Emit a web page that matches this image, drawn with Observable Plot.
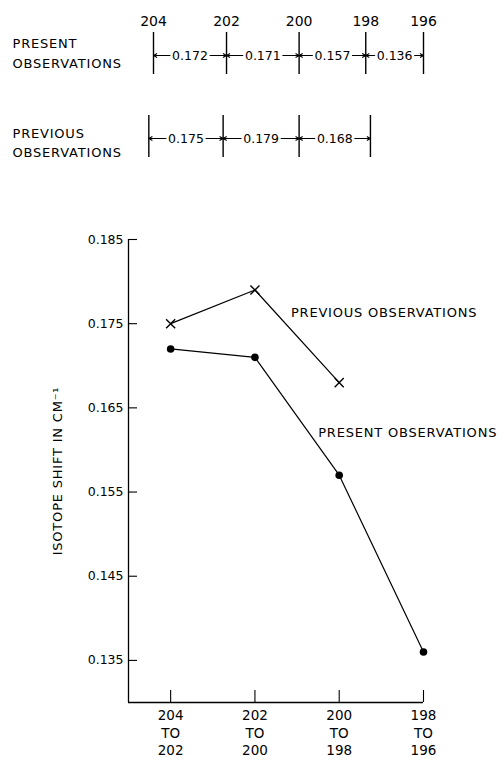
<!DOCTYPE html>
<html>
<head>
<meta charset="utf-8">
<script src="https://cdn.jsdelivr.net/npm/d3@7"></script>
<script src="https://cdn.jsdelivr.net/npm/@observablehq/plot@0.6"></script>
<style>
  html, body { margin: 0; padding: 0; background: #fff; }
  #chart svg { display: block; }
  #chart .wide text, #chart text.wide, #chart g.wide { letter-spacing: 0.8px; }
</style>
</head>
<body>
<div id="chart"></div>
<script>
// ---- Data ----
const masses = [204, 202, 200, 198, 196];
const presentShifts = [0.172, 0.171, 0.157, 0.136];
const previousShifts = [0.175, 0.179, 0.168];
const pairLabels = ["204\nTO\n202", "202\nTO\n200", "200\nTO\n198", "198\nTO\n196"];
const yTicks = [0.135, 0.145, 0.155, 0.165, 0.175, 0.185];
const rowNames = ["present", "previous"];
const rowLabels = ["PRESENT\nOBSERVATIONS", "PREVIOUS\nOBSERVATIONS"];
const seriesLabels = ["PRESENT OBSERVATIONS", "PREVIOUS OBSERVATIONS"];
const yLabel = "ISOTOPE SHIFT IN CM\u207B\u00B9";

const FONT = "DejaVu Sans, sans-serif";

// ---- Top diagram: cumulative shifts ----
function cumulative(shifts) {
  const c = [0];
  shifts.forEach(s => c.push(c[c.length - 1] + s));
  return c;
}
const presCum = cumulative(presentShifts);
const prevCum0 = cumulative(previousShifts);
// align the two ladders at mass 200
const offset = presCum[2] - prevCum0[2];
const prevCum = prevCum0.map(v => v + offset);

const boundaries = [
  ...presCum.map((pos, i) => ({row: "present", mass: masses[i], pos})),
  ...prevCum.map((pos, i) => ({row: "previous", mass: masses[i], pos}))
];
function intervals(row, shifts, cum) {
  return shifts.map((v, i) => ({row, value: v, left: cum[i], right: cum[i + 1], mid: (cum[i] + cum[i + 1]) / 2}));
}
const ints = [...intervals("present", presentShifts, presCum), ...intervals("previous", previousShifts, prevCum)];
const arrowData = ints.flatMap(d => [{row: d.row, from: d.mid, to: d.left}, {row: d.row, from: d.mid, to: d.right}]);

const topPlot = Plot.plot({
  width: 504,
  height: 190,
  margin: 0,
  style: {fontFamily: FONT, fontSize: "12.5px", color: "#000", background: "#fff"},
  x: {domain: [0, presCum[presCum.length - 1]], range: [153, 423], axis: null},
  y: {type: "band", domain: rowNames, range: [32, 157], paddingInner: 0.5, paddingOuter: 0, axis: null},
  marks: [
    Plot.tickX(boundaries, {x: "pos", y: "row", stroke: "#000", strokeWidth: 1.4}),
    Plot.text(boundaries.filter(d => d.row === "present"), {x: "pos", y: "row", text: d => String(d.mass), dy: -32, fontSize: 14}),
    Plot.text(ints, {x: "mid", y: "row", text: d => d3.format(".3f")(d.value), dy: 2, fontSize: 12.5}),
    Plot.arrow(arrowData, {x1: "from", x2: "to", y1: "row", y2: "row", dy: 2, insetStart: 20, headLength: 5, headAngle: 60, stroke: "#000", strokeWidth: 1.1}),
    Plot.text([{row: rowNames[0], label: rowLabels[0]}], {y: "row", text: "label", frameAnchor: "left", dx: 12, textAnchor: "start", lineHeight: 1.55, dy: -2, fontSize: 13, className: "wide"}),
    Plot.text([{row: rowNames[1], label: rowLabels[1]}], {y: "row", text: "label", frameAnchor: "left", dx: 12, textAnchor: "start", lineHeight: 1.5, dy: 5, fontSize: 13, className: "wide"})
  ]
});

// ---- Main chart ----
const present = presentShifts.map((v, i) => ({i, v}));
const previous = previousShifts.map((v, i) => ({i, v}));

const mainPlot = Plot.plot({
  width: 504,
  height: 567,
  marginLeft: 128,
  marginRight: 81,
  marginTop: 49,
  marginBottom: 55,
  style: {fontFamily: FONT, fontSize: "12.5px", color: "#000", background: "#fff"},
  x: {domain: [-0.5, 3], axis: null, label: null},
  y: {domain: [0.13, 0.185], axis: null, label: null},
  marks: [
    Plot.ruleX([-0.5], {stroke: "#000", strokeWidth: 1.3}),
    Plot.ruleY([0.13], {stroke: "#000", strokeWidth: 1.3}),
    Plot.axisY({ticks: yTicks, tickSize: -9, text: null, label: null, stroke: "#000", strokeWidth: 1.1}),
    Plot.axisY({ticks: yTicks, tickSize: 0, tickPadding: 5, label: null, tickFormat: d3.format(".3f"), fontSize: 12.5}),
    Plot.axisX({ticks: [0, 1, 2, 3], tickSize: -12, text: null, label: null, stroke: "#000", strokeWidth: 1.1}),
    Plot.axisX({ticks: [0, 1, 2, 3], tickSize: 0, tickPadding: 5, label: null, tickFormat: i => pairLabels[i], lineHeight: 1.3, fontSize: 13.5}),
    Plot.text([yLabel], {frameAnchor: "left", textAnchor: "middle", text: d => d, rotate: -90, dx: -71, fontSize: 13, className: "wide"}),
    Plot.line(previous, {x: "i", y: "v", stroke: "#000", strokeWidth: 1.2}),
    Plot.line(present, {x: "i", y: "v", stroke: "#000", strokeWidth: 1.2}),
    Plot.dot(present, {x: "i", y: "v", r: 3.8, fill: "#000"}),
    Plot.dot(previous, {x: "i", y: "v", symbol: "times", r: 4.2, stroke: "#000", strokeWidth: 1.4}),
    Plot.text([{text: seriesLabels[0], i: 2, v: presentShifts[2]}], {x: "i", y: "v", text: "text", dx: -21, dy: -42, textAnchor: "start", fontSize: 13, className: "wide"}),
    Plot.text([{text: seriesLabels[1], i: 1, v: previousShifts[1]}], {x: "i", y: "v", text: "text", dx: 36, dy: 23, textAnchor: "start", fontSize: 13, className: "wide"})
  ]
});

document.getElementById("chart").append(topPlot, mainPlot);
</script>
</body>
</html>
